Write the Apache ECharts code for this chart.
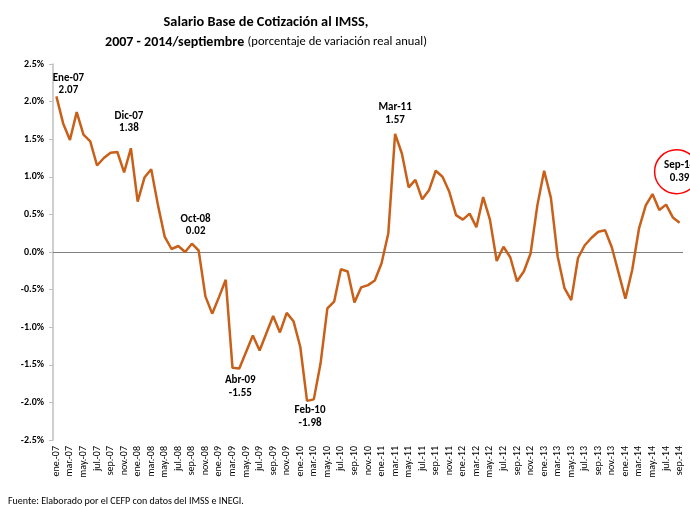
<!DOCTYPE html>
<html><head><meta charset="utf-8">
<script src="https://cdn.jsdelivr.net/npm/echarts@6/dist/echarts.min.js"></script>
<style>html,body{margin:0;padding:0;background:#fff}#c{width:690px;height:506px}</style>
</head><body><div id="c"></div>
<script>
const monthNames = ['ene.','feb.','mar.','abr.','may.','jun.','jul.','ago.','sep.','oct.','nov.','dic.'];
const years = ['07','08','09','10','11','12','13','14'];
const categories = [];
years.forEach(y => monthNames.forEach(m => categories.push(m + '-' + y)));
categories.length = 93; // ene.-07 .. sep.-14

const values = [
  2.07, 1.71, 1.49, 1.86, 1.56, 1.47, 1.15, 1.25, 1.32, 1.33, 1.06, 1.38,
  0.67, 0.99, 1.10, 0.62, 0.20, 0.04, 0.08, 0.00, 0.11, 0.02, -0.59, -0.82,
  -0.60, -0.37, -1.54, -1.55, -1.33, -1.11, -1.31, -1.08, -0.85, -1.07, -0.81, -0.92,
  -1.26, -1.98, -1.96, -1.48, -0.75, -0.66, -0.23, -0.26, -0.67, -0.47, -0.44, -0.38,
  -0.15, 0.25, 1.57, 1.31, 0.86, 0.96, 0.70, 0.82, 1.08, 1.00, 0.80, 0.49,
  0.43, 0.51, 0.33, 0.73, 0.43, -0.12, 0.07, -0.07, -0.39, -0.26, -0.02, 0.62,
  1.08, 0.72, -0.06, -0.48, -0.64, -0.08, 0.09, 0.19, 0.27, 0.29, 0.06, -0.28,
  -0.62, -0.24, 0.31, 0.62, 0.77, 0.56, 0.63, 0.46, 0.39
];

const yTicks = [-2.5, -2.0, -1.5, -1.0, -0.5, 0.0, 0.5, 1.0, 1.5, 2.0, 2.5];

const annotIndex = [0, 11, 21, 27, 37, 50, 92];
const annotName  = ['Ene-07', 'Dic-07', 'Oct-08', 'Abr-09', 'Feb-10', 'Mar-11', 'Sep-14'];
const annotValue = ['2.07', '1.38', '0.02', '-1.55', '-1.98', '1.57', '0.39'];

const FONT = 'Carlito, "Liberation Sans Narrow", "DejaVu Sans Condensed", Roboto, sans-serif';
const annotOffset = [[12, -12], [-2, -26], [-3, -25], [1, 18], [3, 16], [0, -20], [0, 0]];

const markData = annotIndex.map((idx, k) => {
  const last = k === annotIndex.length - 1;
  const base = {
    coord: [categories[idx], values[idx]],
    value: annotValue[k],
    label: {
      show: true, position: 'inside', offset: last ? [3, 0] : annotOffset[k],
      formatter: annotName[k] + '\n' + annotValue[k],
      color: '#000', fontWeight: 'bold', fontSize: 11, lineHeight: 12.5, fontFamily: FONT
    }
  };
  if (last) {
    base.symbol = 'circle';
    base.symbolSize = 44;
    base.symbolOffset = [-3, -51];
    base.itemStyle = { color: '#fff', borderColor: '#ff0000', borderWidth: 1.5 };
  } else {
    base.symbol = 'rect';
    base.symbolSize = 1;
    base.itemStyle = { color: 'rgba(0,0,0,0)' };
  }
  return base;
});

const chart = echarts.init(document.getElementById('c'), null, { renderer: 'canvas' });
chart.setOption({
  animation: false,
  backgroundColor: '#fff',
  graphic: [
    { type: 'text', x: 266, y: 22,
      style: { text: 'Salario Base de Cotización al IMSS,', align: 'center', verticalAlign: 'middle',
        fill: '#000', font: 'bold 14.3px ' + FONT } },
    { type: 'text', x: 266, y: 42,
      style: { text: '{b|2007 - 2014/septiembre} {n|(porcentaje de variación real anual)}',
        align: 'center', verticalAlign: 'middle',
        rich: { b: { fontWeight: 'bold', fontSize: 14, fontFamily: FONT, color: '#000' },
                n: { fontWeight: 'normal', fontSize: 12.5, fontFamily: FONT, color: '#000' } } } },
    { type: 'text', x: 8, y: 501,
      style: { text: 'Fuente: Elaborado por el CEFP con datos del IMSS e INEGI.', verticalAlign: 'middle',
        fill: '#000', font: '10px ' + FONT } }
  ],
  grid: { left: 53, right: 7, top: 64, bottom: 66, containLabel: false },
  xAxis: {
    type: 'category', data: categories, boundaryGap: true,
    axisLine: { show: false },
    axisTick: { show: false },
    axisLabel: { interval: 1, rotate: 90, fontSize: 10, color: '#000', fontFamily: FONT, margin: 6 },
    splitLine: { show: false }
  },
  yAxis: {
    type: 'value', min: -2.5, max: 2.5, interval: 0.5,
    axisLine: { show: true, lineStyle: { color: '#bfbfbf', width: 1.5 } },
    axisTick: { show: true, length: 4, lineStyle: { color: '#bfbfbf' } },
    splitLine: { show: false },
    axisLabel: {
      formatter: v => (yTicks.includes(Math.round(v * 10) / 10) ? v.toFixed(1) + '%' : ''),
      fontSize: 10, fontWeight: 'bold', color: '#000', fontFamily: FONT, margin: 9
    }
  },
  series: [{
    type: 'line', data: values, showSymbol: false, symbol: 'none',
    lineStyle: { color: '#C8601A', width: 2.5 },
    z: 3,
    markLine: {
      silent: true, symbol: 'none', label: { show: false },
      lineStyle: { color: '#808080', width: 1, type: 'solid' },
      data: [{ yAxis: 0 }], z: 1
    },
    markPoint: { silent: true, data: markData, z: 5 }
  }]
});
</script></body></html>
